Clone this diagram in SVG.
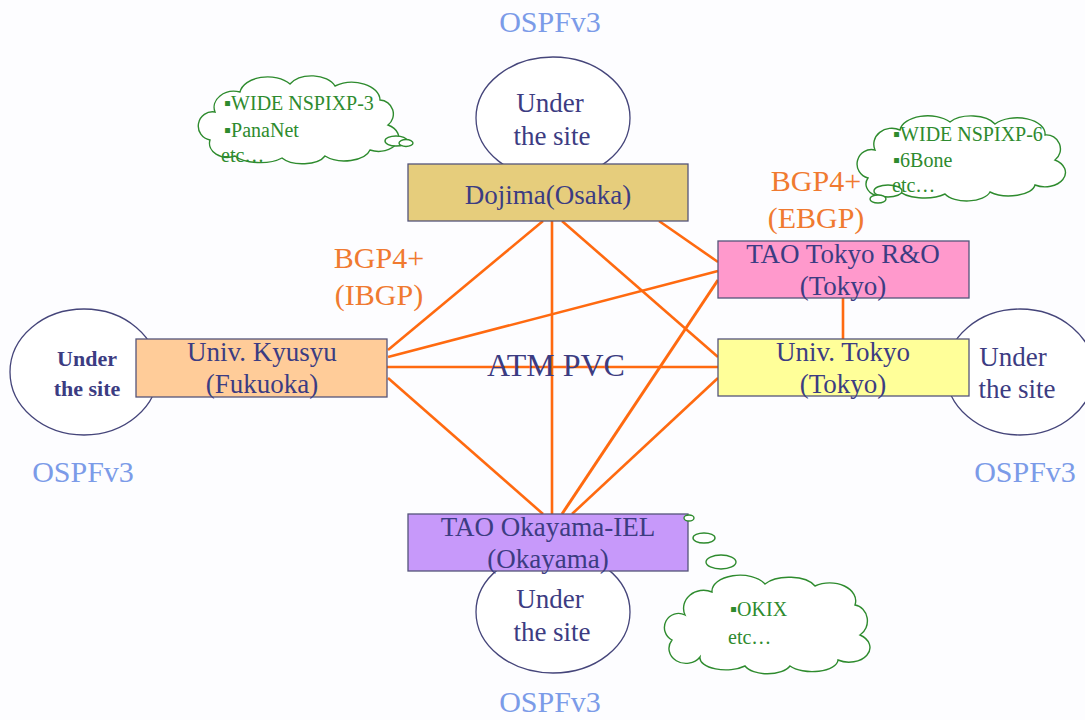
<svg xmlns="http://www.w3.org/2000/svg" width="1085" height="720" viewBox="0 0 1085 720">
<style>
.site{fill:#ffffff;stroke:#45457a;stroke-width:1.3}
.box{stroke:#55557a;stroke-width:1.3}
.lbl{font-family:"Liberation Serif","DejaVu Serif",serif;font-size:27px;fill:#3c3c82;text-anchor:middle}
.ospf{font-family:"Liberation Serif","DejaVu Serif",serif;font-size:30px;fill:#7b9be8;text-anchor:middle}
.bgp{font-family:"Liberation Serif","DejaVu Serif",serif;font-size:30px;fill:#f07a30;text-anchor:middle}
.atm{font-family:"Liberation Serif","DejaVu Serif",serif;font-size:32px;fill:#3c3c82;text-anchor:middle}
.cloud{fill:#ffffff;stroke:#2e8b2e;stroke-width:1.4}
.ct{font-family:"Liberation Serif","DejaVu Serif",serif;font-size:20px;fill:#2e8b2e}
.ln{stroke:#ff6a10;stroke-width:2.6;fill:none}
</style>
<rect width="1085" height="720" fill="#fdfdff"/>

<g id="labels">
<text class="ospf" x="550" y="32">OSPFv3</text>
<text class="ospf" x="83" y="482">OSPFv3</text>
<text class="ospf" x="1025" y="482">OSPFv3</text>
<text class="ospf" x="550" y="712">OSPFv3</text>
<text class="bgp" x="379" y="268">BGP4+</text>
<text class="bgp" x="379" y="305">(IBGP)</text>
<text class="bgp" x="816" y="191">BGP4+</text>
<text class="bgp" x="816" y="228">(EBGP)</text>
</g>

<g id="site-top"><ellipse class="site" cx="553" cy="118" rx="77" ry="61"/>
<text class="lbl" x="550" y="112">Under</text><text class="lbl" x="552" y="145">the site</text></g>
<g id="site-left"><ellipse class="site" cx="84" cy="372" rx="74" ry="63"/>
<text class="lbl" x="87" y="366" style="font-size:22px;font-weight:bold">Under</text><text class="lbl" x="87" y="396" style="font-size:22px;font-weight:bold">the site</text></g>
<g id="site-right"><ellipse class="site" cx="1020" cy="372" rx="74" ry="63"/>
<text class="lbl" x="1013" y="366">Under</text><text class="lbl" x="1017" y="398">the site</text></g>
<g id="site-bottom"><ellipse class="site" cx="553" cy="612" rx="77" ry="61"/>
<text class="lbl" x="550" y="608">Under</text><text class="lbl" x="552" y="641">the site</text></g>

<g id="connectors">
<line class="ln" x1="543" y1="221" x2="388" y2="350"/>
<line class="ln" x1="552" y1="221" x2="552" y2="514"/>
<line class="ln" x1="562" y1="221" x2="718" y2="357"/>
<line class="ln" x1="659" y1="221" x2="718" y2="262"/>
<line class="ln" x1="388" y1="357" x2="718" y2="271"/>
<line class="ln" x1="387" y1="367" x2="718" y2="367"/>
<line class="ln" x1="388" y1="378" x2="543" y2="514"/>
<line class="ln" x1="718" y1="280" x2="562" y2="514" style="stroke-width:3"/>
<line class="ln" x1="718" y1="378" x2="572" y2="514"/>
<line class="ln" x1="843" y1="298" x2="843" y2="339"/>
</g>
<text class="atm" x="556" y="376">ATM PVC</text>

<g id="dojima"><rect class="box" x="408" y="164" width="280" height="57" fill="#e6cd7c"/>
<text class="lbl" x="548" y="204">Dojima(Osaka)</text></g>
<g id="kyusyu"><rect class="box" x="136" y="339" width="251" height="58" fill="#ffcc99"/>
<text class="lbl" x="262" y="361">Univ. Kyusyu</text><text class="lbl" x="262" y="393">(Fukuoka)</text></g>
<g id="tao-tokyo"><rect class="box" x="718" y="241" width="251" height="57" fill="#ff99cc"/>
<text class="lbl" x="843" y="263">TAO Tokyo R&amp;O</text><text class="lbl" x="843" y="295">(Tokyo)</text></g>
<g id="univ-tokyo"><rect class="box" x="718" y="339" width="251" height="57" fill="#ffff99"/>
<text class="lbl" x="843" y="361">Univ. Tokyo</text><text class="lbl" x="843" y="393">(Tokyo)</text></g>
<g id="okayama"><rect class="box" x="408" y="514" width="280" height="57" fill="#c799fa"/>
<text class="lbl" x="548" y="536">TAO Okayama-IEL</text><text class="lbl" x="548" y="568">(Okayama)</text></g>

<g id="cloud-left">
<path class="cloud" d="M215,112 A20,16 0 0 1 240,92 A28,18 0 0 1 290,84 A25,16 0 0 1 335,86 A28,18 0 0 1 380,100 A14,14 0 0 1 388,125 A20,14 0 0 1 370,150 A26,14 0 0 1 325,156 A24,12 0 0 1 282,158 A28,12 0 0 1 235,156 A18,14 0 0 1 210,140 A14,14 0 0 1 215,112 Z"/>
<ellipse class="cloud" cx="396" cy="141" rx="11" ry="5"/>
<ellipse class="cloud" cx="406" cy="143" rx="7" ry="3.5"/>
<text class="ct" x="224" y="110">▪WIDE NSPIXP-3</text>
<text class="ct" x="224" y="137">▪PanaNet</text>
<text class="ct" x="221" y="162">etc…</text>
</g>
<g id="cloud-right">
<path class="cloud" d="M875,150 A18,16 0 0 1 900,130 A28,16 0 0 1 950,122 A26,14 0 0 1 995,124 A28,16 0 0 1 1045,135 A14,14 0 0 1 1055,160 A20,14 0 0 1 1035,185 A26,12 0 0 1 990,192 A24,12 0 0 1 945,194 A28,12 0 0 1 898,190 A16,12 0 0 1 868,178 A12,12 0 0 1 875,150 Z"/>
<ellipse class="cloud" cx="888" cy="191" rx="14" ry="6"/>
<ellipse class="cloud" cx="878" cy="199" rx="8" ry="4"/>
<text class="ct" x="893" y="141">▪WIDE NSPIXP-6</text>
<text class="ct" x="893" y="167">▪6Bone</text>
<text class="ct" x="892" y="192">etc…</text>
</g>
<g id="cloud-bottom">
<path class="cloud" d="M685,615 A20,18 0 0 1 712,592 A28,16 0 0 1 765,584 A28,14 0 0 1 815,586 A26,18 0 0 1 855,605 A14,16 0 0 1 860,635 A20,14 0 0 1 838,660 A26,12 0 0 1 790,666 A24,12 0 0 1 745,666 A26,12 0 0 1 700,657 A16,14 0 0 1 672,640 A12,12 0 0 1 685,615 Z"/>
<ellipse class="cloud" cx="689" cy="518" rx="5" ry="3"/>
<ellipse class="cloud" cx="704" cy="538" rx="11" ry="5"/>
<ellipse class="cloud" cx="721" cy="562" rx="15" ry="7"/>
<text class="ct" x="730" y="616">▪OKIX</text>
<text class="ct" x="728" y="644">etc…</text>
</g>
</svg>
